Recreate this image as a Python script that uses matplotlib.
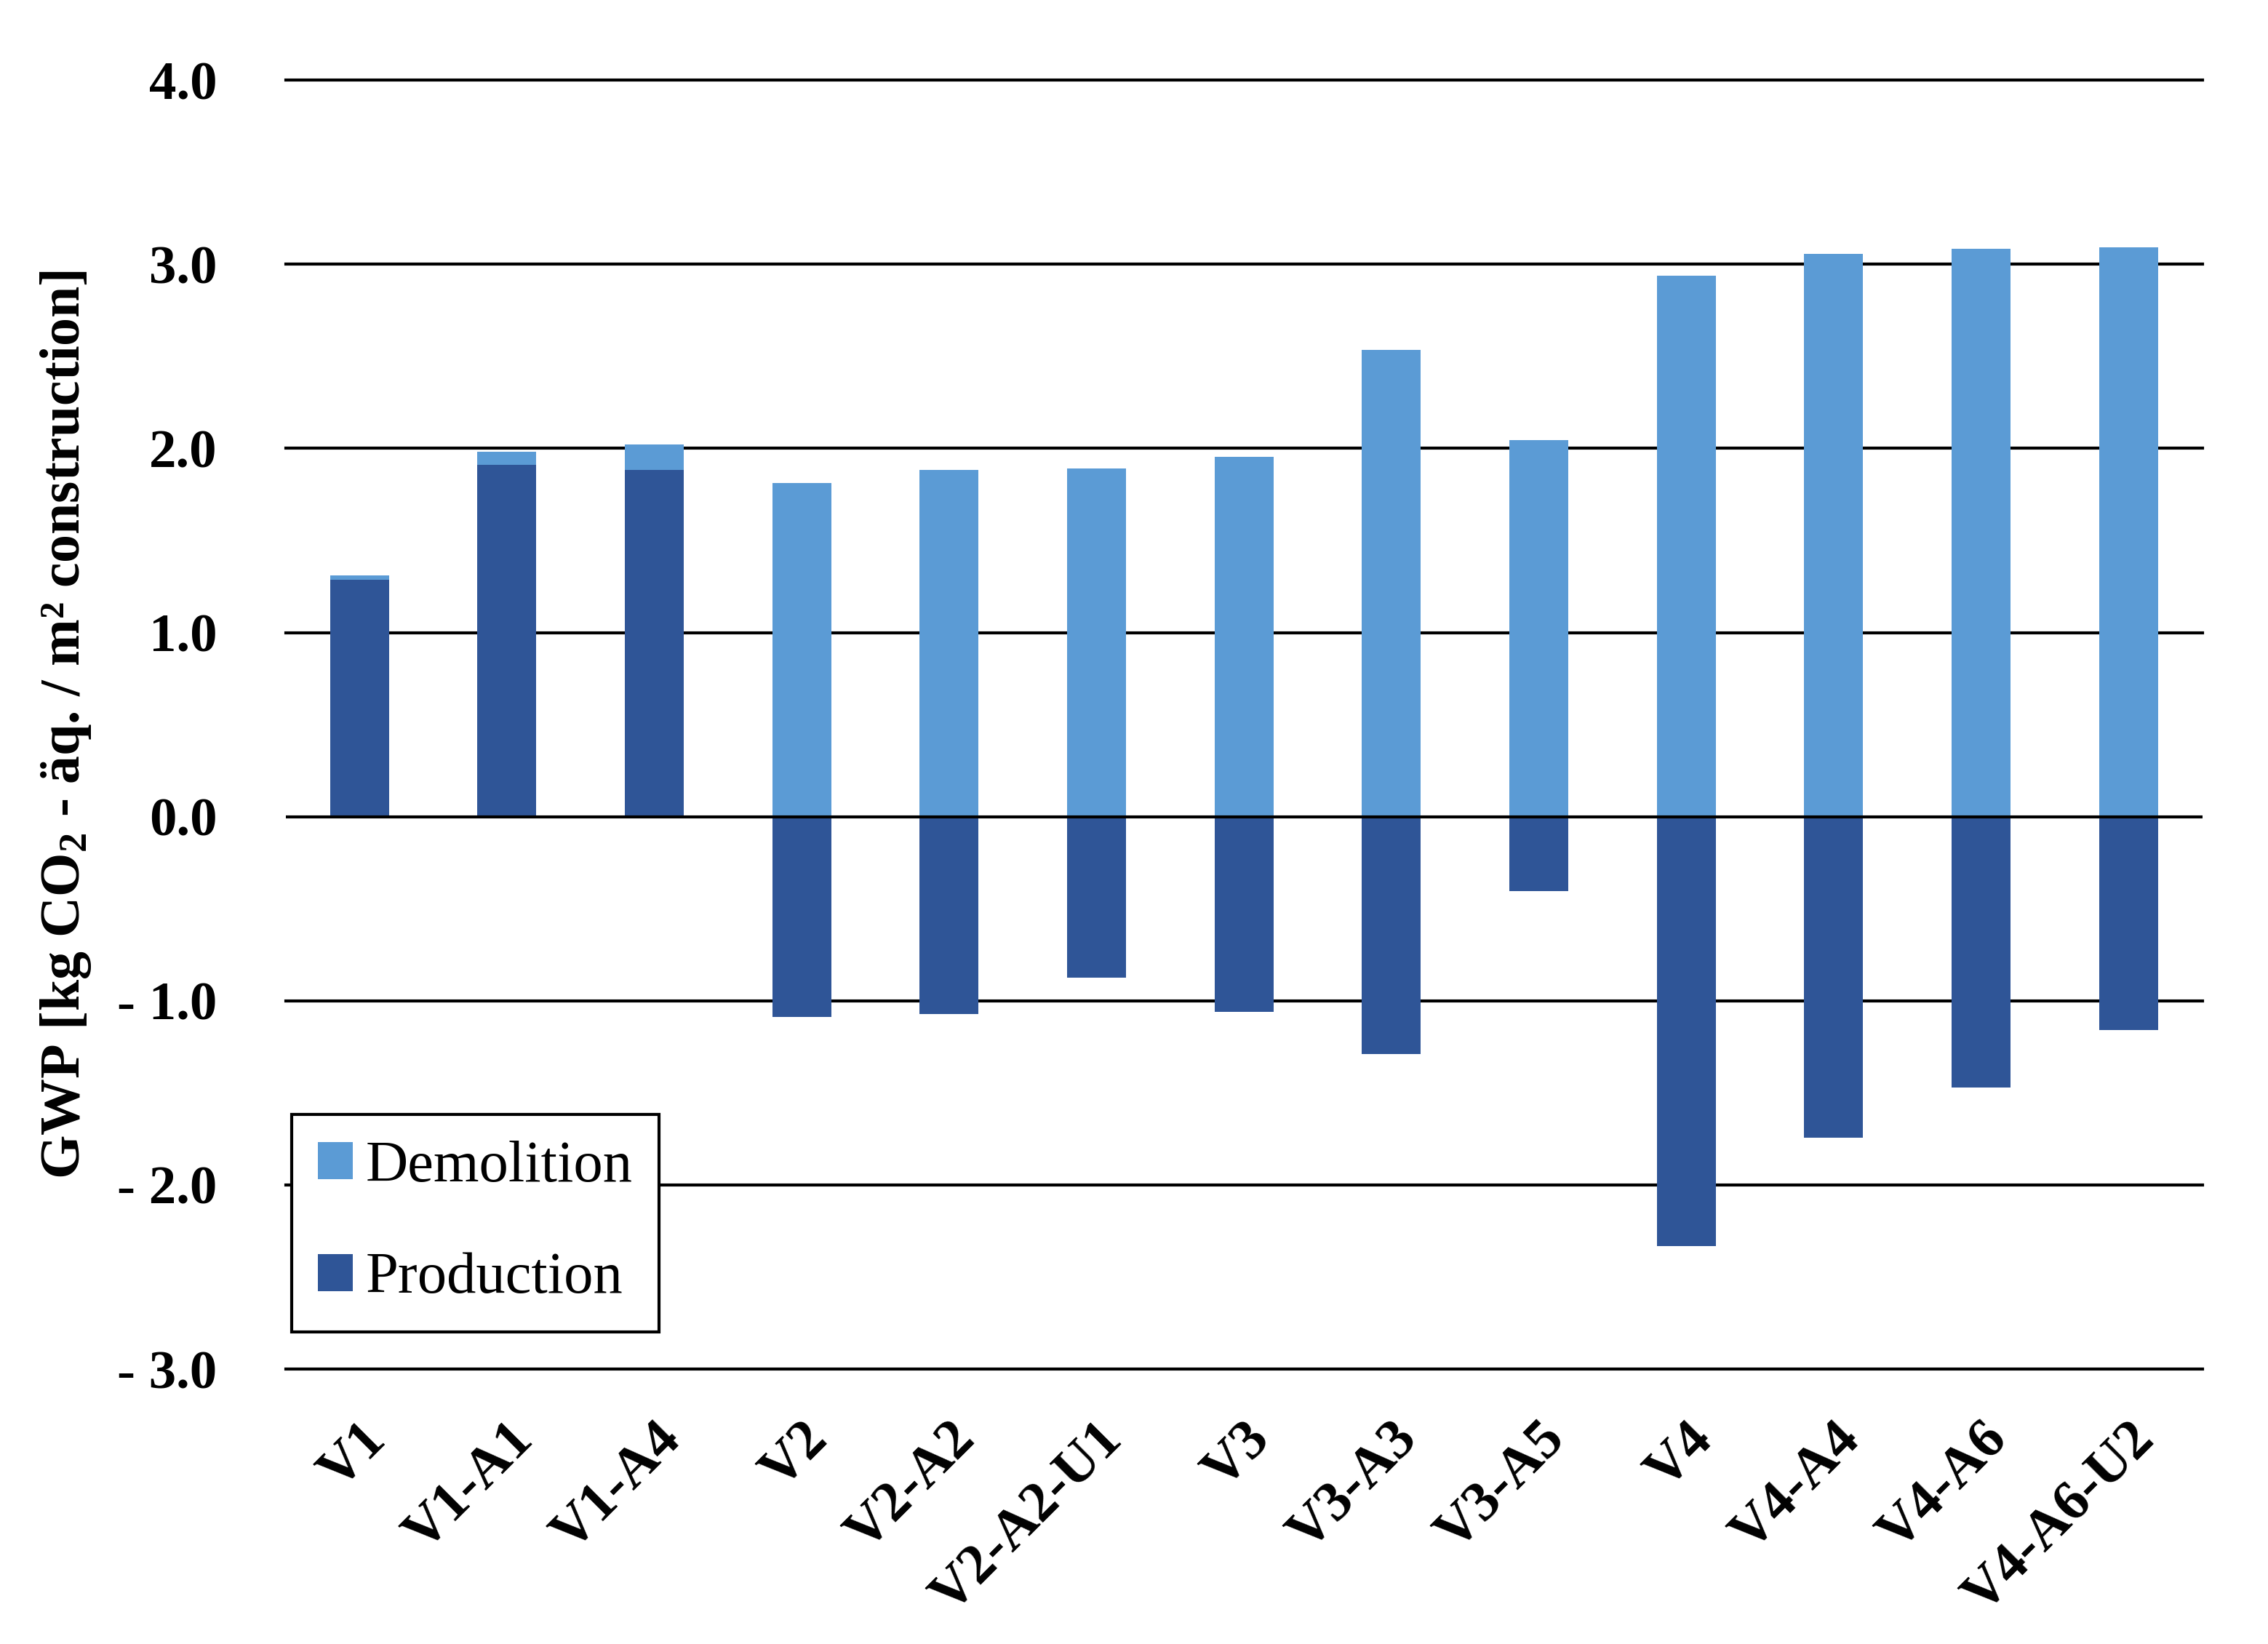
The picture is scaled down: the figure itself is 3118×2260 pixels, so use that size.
import numpy as np
import matplotlib
matplotlib.use("Agg")
import matplotlib.pyplot as plt
import matplotlib.ticker as mtick

# data
variants = ["V1", "V1-A1", "V1-A4", "V2", "V2-A2", "V2-A2-U1", "V3",
            "V3-A3", "V3-A5", "V4", "V4-A4", "V4-A6", "V4-A6-U2"]
production = [1.287, 1.912, 1.882, -1.088, -1.073, -0.873, -1.058,
              -1.288, -0.404, -2.331, -1.742, -1.470, -1.160]
demolition = [0.024, 0.070, 0.139, 1.813, 1.881, 1.889, 1.953,
              2.535, 2.044, 2.939, 3.056, 3.083, 3.090]
yticks = [-3, -2, -1, 0, 1, 2, 3, 4]

c_dem = "#5B9BD5"
c_prod = "#2F5597"

plt.rcParams['font.family'] = ['Liberation Serif', 'DejaVu Serif']
plt.rcParams['mathtext.fontset'] = 'custom'
plt.rcParams['mathtext.rm'] = 'Liberation Serif:bold'
plt.rcParams['mathtext.bf'] = 'Liberation Serif:bold'
plt.rcParams['mathtext.it'] = 'Liberation Serif:italic:bold'

fig = plt.figure(figsize=(15.59, 11.30), dpi=200)
ax = fig.add_axes([0.126, 0.1672, 0.845, 0.7841])

x = np.arange(len(variants))
prod = np.array(production)
dem_bottom = np.clip(prod, 0, None)

for y in yticks:
    if y != 0:
        ax.axhline(y, color="black", lw=1.5, zorder=0, clip_on=False)

ax.bar(x, production, width=0.4, color=c_prod, label="Production", zorder=2)
ax.bar(x, demolition, width=0.4, bottom=dem_bottom, color=c_dem,
       label="Demolition", zorder=2)
ax.axhline(0, color="black", lw=1.5, zorder=3)

ax.set_xlim(-0.5, len(variants) - 0.5)
ax.set_ylim(-3, 4)
ax.set_yticks(yticks)
ax.yaxis.set_major_formatter(mtick.FuncFormatter(
    lambda v, p: f"- {abs(v):.1f}" if v < 0 else f"{v:.1f}"))
ax.tick_params(axis="y", length=0, pad=34, labelsize=27)
ax.tick_params(axis="x", length=0, pad=22, labelsize=28)
for t in ax.get_yticklabels():
    t.set_fontweight("bold")

ax.set_xticks(x)
ax.set_xticklabels(variants, rotation=45, ha="right", rotation_mode="anchor",
                   fontweight="bold")

for s in ax.spines.values():
    s.set_visible(False)

ax.set_ylabel("GWP [kg CO$_2$ - äq. / m² construction]", fontsize=28,
              fontweight="bold", labelpad=12)

h, l = ax.get_legend_handles_labels()
leg = ax.legend(h[::-1], l[::-1], loc="lower left", bbox_to_anchor=(0.003, 0.029),
                borderaxespad=0, fontsize=29, frameon=True, fancybox=False,
                handlelength=0.6, handleheight=0.6, handletextpad=0.22,
                labelspacing=1.0, borderpad=0.45)
leg.get_frame().set_edgecolor("black")
leg.get_frame().set_linewidth(1.5)
leg.get_frame().set_alpha(1)

fig.savefig("out.png", dpi=200)
